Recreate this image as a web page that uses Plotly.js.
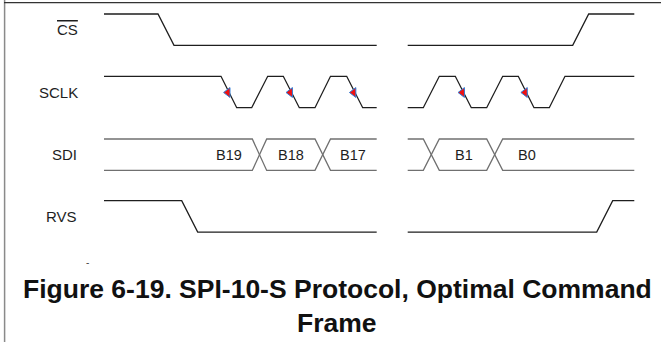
<!DOCTYPE html>
<html>
<head>
<meta charset="utf-8">
<script src="https://cdn.plot.ly/plotly-3.0.1.min.js"></script>
<style>
  html, body { margin: 0; padding: 0; background: #fff; }
  #chart { width: 661px; height: 342px; }
</style>
</head>
<body>
<div id="chart"></div>
<script>
// ---- DATA (time on the horizontal axis, logic levels 0/1) ----
var signalNames = ["CS", "SCLK", "SDI", "RVS"];

var csTime   = [104, 158, 174, 376.7, null, 407.7, 572.7, 588.7, 634.3];
var csLevel  = [1,   1,   0,   0,     null, 0,     0,     1,     1];

var sclkTime  = [104, 221, 236.7, 251.7, 267.7, 283.3, 299.3, 315, 330.5, 346.7, 362.7, 376.7,
                 null, 407.7, 423.3, 439.3, 455.3, 471.3, 486.7, 502.7, 518.3, 534, 549.3, 565, 634.3];
var sclkLevel = [1,   1,   0,     0,     1,     1,     0,     0,   1,     1,     0,     0,
                 null, 0,     0,     1,     1,     0,     0,     1,     1,     0,   0,     1,   1];

// SDI bus: segments (start, end) and bit transitions (start, end)
var sdiSegments    = [[104, 376.7], [407.7, 634.3]];
var sdiTransitions = [[252.3, 266.7], [315, 330.5], [423.3, 439.3], [486.7, 502.7]];
var sdiBitLabels   = ["B19", "B18", "B17", "B1", "B0"];
var sdiBitLabelX   = [228.7, 290.8, 353, 463.8, 526.5];

var rvsTime  = [104, 181.7, 197.7, 376.7, null, 407.7, 596.7, 612.7, 634.3];
var rvsLevel = [1,   1,     0,     0,     null, 0,     0,     1,     1];

var titleLines = ["Figure 6-19. SPI-10-S Protocol, Optimal Command", "Frame"];

// ---- LAYOUT CONSTANTS ----
var rowHigh = [14, 76.3, 139, 200.7];
var amp = 31.4;
var dark = "#1e1e1e";
var grey = "#707070";
var font = "'Liberation Sans', Arial, Helvetica, sans-serif";

function levelsToY(levels, row) {
  return levels.map(function (l) { return l === null ? null : rowHigh[row] + (1 - l) * amp; });
}

var traces = [];
function wave(x, lev, row, color) {
  traces.push({
    type: "scatter", mode: "lines", x: x, y: levelsToY(lev, row),
    line: { color: color, width: 1.3 }, hoverinfo: "skip", showlegend: false
  });
}
wave(csTime, csLevel, 0, dark);
wave(sclkTime, sclkLevel, 1, dark);
wave(rvsTime, rvsLevel, 3, dark);

// SDI bus: two lines that swap at each transition
(function () {
  var ax = [], al = [], bl = [];
  sdiSegments.forEach(function (seg, si) {
    if (si > 0) { ax.push(null); al.push(null); bl.push(null); }
    var lvl = 1;
    ax.push(seg[0]); al.push(lvl); bl.push(1 - lvl);
    sdiTransitions.forEach(function (tr) {
      if (tr[0] >= seg[0] && tr[1] <= seg[1]) {
        ax.push(tr[0]); al.push(lvl); bl.push(1 - lvl);
        lvl = 1 - lvl;
        ax.push(tr[1]); al.push(lvl); bl.push(1 - lvl);
      }
    });
    ax.push(seg[1]); al.push(lvl); bl.push(1 - lvl);
  });
  wave(ax, al, 2, grey);
  wave(ax, bl, 2, grey);
})();

// Arrows on SCLK falling edges
(function () {
  var mx = [], my = [];
  for (var i = 1; i < sclkTime.length; i++) {
    if (sclkLevel[i - 1] === 1 && sclkLevel[i] === 0) {
      mx.push((sclkTime[i - 1] + sclkTime[i]) / 2 - 1);
      my.push(rowHigh[1] + amp / 2 + 0.5);
    }
  }
  traces.push({
    type: "scatter", mode: "markers", x: mx, y: my, hoverinfo: "skip", showlegend: false,
    marker: { symbol: "triangle-left", size: 8.5, color: "#ee1111", line: { color: "#2f7ed8", width: 1 } }
  });
})();

var annotations = [];
var labelText = ['<span style="text-decoration:overline">CS</span>', "SCLK", "SDI", "RVS"];
var labelRight = [80, 80, 78.5, 78.5];
signalNames.forEach(function (n, i) {
  annotations.push({
    x: labelRight[i], y: rowHigh[i] + amp / 2, xref: "x", yref: "y",
    text: labelText[i], showarrow: false, xanchor: "right", yanchor: "middle",
    font: { family: font, size: 15, color: dark }
  });
});
sdiBitLabels.forEach(function (b, i) {
  annotations.push({
    x: sdiBitLabelX[i], y: rowHigh[2] + amp / 2, xref: "x", yref: "y",
    text: b, showarrow: false, xanchor: "center", yanchor: "middle",
    font: { family: font, size: 14.5, color: dark }
  });
});
annotations.push({
  x: 87, y: 262, xref: "x", yref: "y", text: "-", showarrow: false,
  font: { family: font, size: 10, color: "#444" }
});
titleLines.forEach(function (t, i) {
  annotations.push({
    x: 337, y: 289 + 34 * i, xref: "x", yref: "y", text: "<b>" + t + "</b>",
    showarrow: false, xanchor: "center", yanchor: "middle",
    font: { family: font, size: 26.5, color: "#111" }
  });
});

var shapes = [
  { type: "line", xref: "x", yref: "y", x0: 4.6, x1: 4.6, y0: 0, y1: 342, line: { color: "#8a8a8a", width: 1.5 } },
  { type: "line", xref: "x", yref: "y", x0: 4, x1: 661, y0: 2.6, y1: 2.6, line: { color: "#333", width: 1.4 } }
];

var layout = {
  width: 661, height: 342,
  margin: { l: 0, r: 0, t: 0, b: 0, pad: 0 },
  paper_bgcolor: "#fff", plot_bgcolor: "#fff",
  xaxis: { range: [0, 661], visible: false, fixedrange: true },
  yaxis: { range: [342, 0], visible: false, fixedrange: true },
  showlegend: false,
  annotations: annotations,
  shapes: shapes
};

Plotly.newPlot("chart", traces, layout, { staticPlot: true, displayModeBar: false });
</script>
</body>
</html>
